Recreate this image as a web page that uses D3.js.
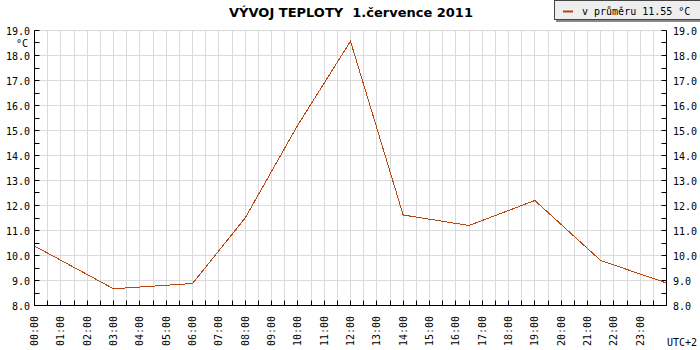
<!DOCTYPE html>
<html>
<head>
<meta charset="utf-8">
<script src="https://cdn.jsdelivr.net/npm/d3@7"></script>
<style>
  body{margin:0;background:#fff;}
  svg text{font-family:"DejaVu Sans Mono",monospace;font-size:10px;fill:#000;}
</style>
</head>
<body>
<div id="chart"></div>
<script>
// measured hours (UTC+2) and temperatures
var hours = [0, 3, 6, 8, 10, 12, 14, 16.5, 19, 21.5, 24];
var temps = [10.38, 8.67, 8.88, 11.5, 15.22, 18.57, 11.62, 11.2, 12.2, 9.8, 8.9];
var hourLabels = ["00:00","01:00","02:00","03:00","04:00","05:00","06:00","07:00","08:00","09:00","10:00","11:00",
  "12:00","13:00","14:00","15:00","16:00","17:00","18:00","19:00","20:00","21:00","22:00","23:00"];
var yTicks = [8,9,10,11,12,13,14,15,16,17,18,19];
var title = "VÝVOJ TEPLOTY  1.července 2011";
var legendText = "v průměru 11.55 °C";

var W = 700, H = 350;
var pLeft = 34.5, pRight = 666.5, pTop = 30.5, pBottom = 305.5;

var svg = d3.select("#chart").append("svg")
  .attr("width", W).attr("height", H);

var x = d3.scaleLinear().domain([0, 24]).range([pLeft, pRight]);
var y = d3.scaleLinear().domain([8, 19]).range([pBottom, pTop]);

var halfHours = d3.range(0, 24.01, 0.5);
var halfDeg = d3.range(8, 19.01, 0.5);

function px(v){ return Math.round(x(v) - 0.5) + 0.5; }
function py(v){ return Math.round(y(v) - 0.5) + 0.5; }

// grid
svg.append("g").selectAll("line").data(halfHours.slice(1, -1)).enter().append("line")
  .attr("x1", px).attr("x2", px)
  .attr("y1", pTop).attr("y2", pBottom)
  .attr("stroke", "#dadada").attr("stroke-width", 1);
svg.append("g").selectAll("line").data(yTicks.slice(1)).enter().append("line")
  .attr("x1", pLeft).attr("x2", pRight)
  .attr("y1", py).attr("y2", py)
  .attr("stroke", "#dadada").attr("stroke-width", 1);

// temperature line
var line = d3.line()
  .x(function(d, i){return x(hours[i]);})
  .y(function(d){return y(d);});
svg.append("path")
  .attr("d", line(temps))
  .attr("fill", "none")
  .attr("stroke", "#b8470f")
  .attr("stroke-width", 1)
  .style("shape-rendering", "crispEdges");

// axes lines
var ax = svg.append("g").attr("stroke", "#000").attr("stroke-width", 1);
ax.append("line").attr("x1", pLeft).attr("x2", pLeft).attr("y1", pTop).attr("y2", pBottom);
ax.append("line").attr("x1", pRight).attr("x2", pRight).attr("y1", pTop).attr("y2", pBottom);
ax.append("line").attr("x1", pLeft).attr("x2", pRight).attr("y1", pBottom).attr("y2", pBottom);

// y ticks (inward)
ax.selectAll(".yl").data(halfDeg).enter().append("line")
  .attr("x1", pLeft).attr("x2", pLeft + 5)
  .attr("y1", py).attr("y2", py);
ax.selectAll(".yr").data(halfDeg).enter().append("line")
  .attr("x1", pRight - 5).attr("x2", pRight)
  .attr("y1", py).attr("y2", py);
// x ticks (upward)
ax.selectAll(".xt").data(halfHours).enter().append("line")
  .attr("x1", px).attr("x2", px)
  .attr("y1", pBottom).attr("y2", pBottom - 5);

// y labels
svg.append("g").selectAll("text").data(yTicks).enter().append("text")
  .attr("x", 30).attr("y", function(d){return y(d) + 4;})
  .attr("text-anchor", "end")
  .text(function(d){return d.toFixed(1);});
svg.append("g").selectAll("text").data(yTicks).enter().append("text")
  .attr("x", 673).attr("y", function(d){return y(d) + 4;})
  .text(function(d){return d.toFixed(1);});
svg.append("text").attr("x", 28).attr("y", 47).attr("text-anchor", "end").text("°C");

// x labels rotated
svg.append("g").selectAll("text").data(hourLabels).enter().append("text")
  .attr("transform", function(d, i){return "translate(" + (x(i) + 3.5) + ",316) rotate(-90)";})
  .attr("text-anchor", "end")
  .text(function(d){return d;});
svg.append("text").attr("x", 697).attr("y", 346).attr("text-anchor", "end").text("UTC+2");

// title
svg.append("text")
  .attr("x", 351).attr("y", 17)
  .attr("text-anchor", "middle")
  .style("font-family", "'DejaVu Sans',sans-serif")
  .style("font-size", "13px")
  .style("font-weight", "bold")
  .style("white-space", "pre")
  .text(title);

// legend
var lg = svg.append("g");
lg.append("rect").attr("x", 556).attr("y", 1).attr("width", 150).attr("height", 21).attr("fill", "#888");
lg.append("rect").attr("x", 554.5).attr("y", 0.5).attr("width", 150).attr("height", 19)
  .attr("fill", "#eeeeee").attr("stroke", "#444");
lg.append("line").attr("x1", 563).attr("x2", 573).attr("y1", 11.5).attr("y2", 11.5)
  .attr("stroke", "#b8470f").attr("stroke-width", 2);
lg.append("text").attr("x", 582).attr("y", 15).text(legendText);
</script>
</body>
</html>
